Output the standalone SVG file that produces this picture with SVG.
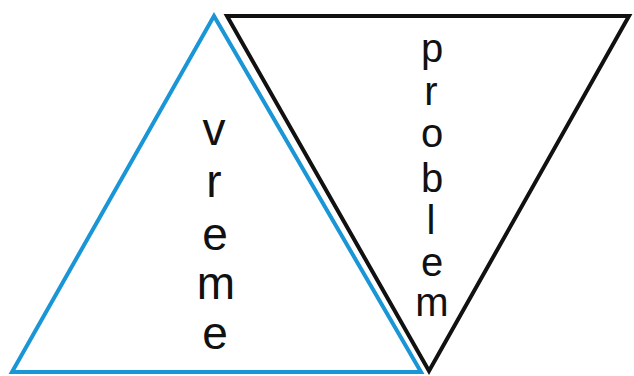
<svg xmlns="http://www.w3.org/2000/svg" width="634" height="376" viewBox="0 0 634 376">
<style>
.t{font-family:"Liberation Sans",Arial,sans-serif;font-size:46px;fill:#111;text-anchor:middle}
.s{font-size:40px}
</style>
<rect width="634" height="376" fill="#fff"/>
<g id="vreme">
<polygon points="214,16 12,372 421,372" fill="none" stroke="#1a95d6" stroke-width="4" stroke-linejoin="miter"/>
<text class="t"><tspan x="214" y="145">v</tspan><tspan x="214" y="197">r</tspan><tspan x="215" y="250">e</tspan><tspan x="216" y="299">m</tspan><tspan x="215" y="349">e</tspan></text>
</g>
<g id="problem">
<polygon points="227,16 629,16 429,371" fill="none" stroke="#111" stroke-width="4" stroke-linejoin="miter"/>
<text class="t s"><tspan x="432" y="62">p</tspan><tspan x="431" y="105">r</tspan><tspan x="432" y="147">o</tspan><tspan x="432" y="192">b</tspan><tspan x="431" y="234">l</tspan><tspan x="432" y="276">e</tspan><tspan x="432" y="316">m</tspan></text>
</g>
<g id="connectors"></g>
</svg>
